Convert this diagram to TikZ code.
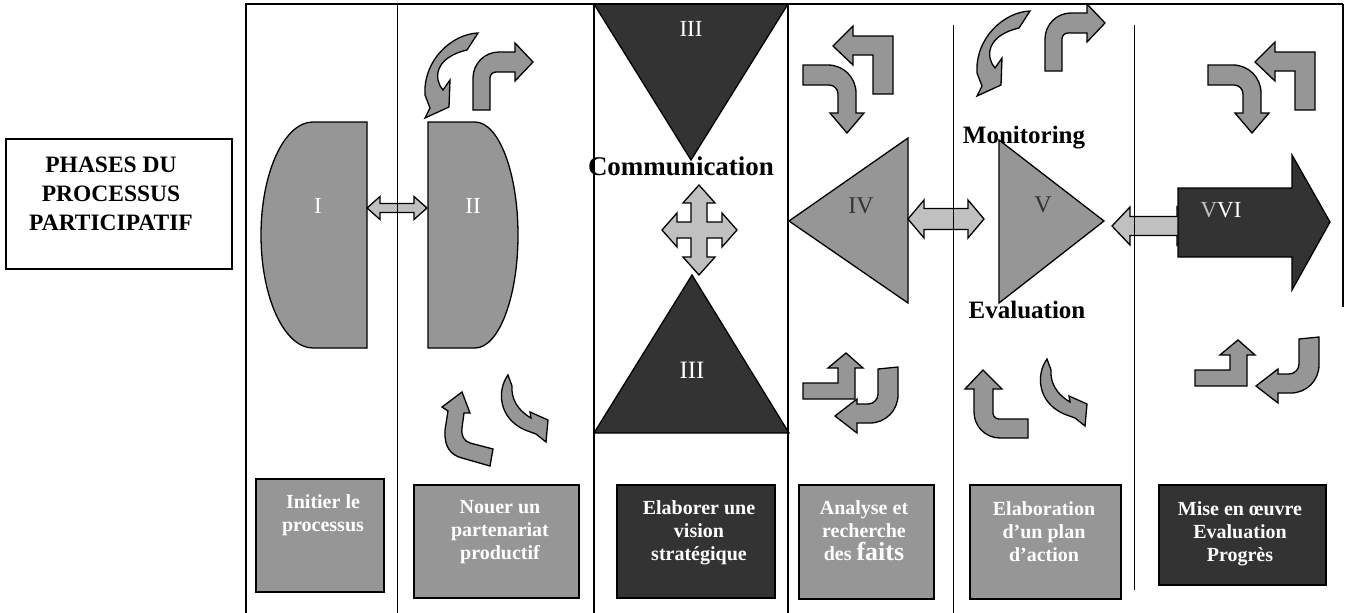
\documentclass[tikz,border=0pt]{standalone}
\usepackage{fontspec}
\setmainfont{Liberation Serif}
\definecolor{mgray}{HTML}{969696}
\definecolor{dgray}{HTML}{333333}
\definecolor{lgray}{HTML}{C0C0C0}
\tikzset{
  shp/.style={draw=black, line width=1.3pt},
  midg/.style={shp, fill=mgray},
  darkf/.style={shp, fill=dgray},
  lightf/.style={shp, fill=lgray},
  frameline/.style={draw=black, line width=2pt},
  divline/.style={draw=black, line width=1pt},
  phasebox/.style={draw=black, line width=1.6pt, anchor=north west, inner sep=0pt},
  boxtext/.style={anchor=north, align=center, text=white, inner sep=0pt, font=\bfseries\fontsize{20}{23}\selectfont},
  romanw/.style={anchor=base, text=white, inner sep=0pt, font=\fontsize{23}{26}\selectfont},
  romand/.style={anchor=base, text=dgray, inner sep=0pt, font=\fontsize{24}{26}\selectfont},
  keyword/.style={anchor=base, inner sep=0pt, font=\bfseries\fontsize{25}{28}\selectfont},
  crescTop/.pic={\path[midg] (478,33) .. controls (452,34) and (423,60) .. (425,95) -- (430,108) -- (425,118) -- (449,107) -- (450,80) -- (443,90) .. controls (434,80) and (433,58) .. (467,50) -- cycle;},
  crescBot/.pic={\path[midg] (508,375) .. controls (497,390) and (498,418) .. (525,430) -- (536,434) -- (546,442) -- (548,420) -- (530,412) -- (531,418) .. controls (517,410) and (511,398) .. (512,386) -- cycle;},
  bentRoundA/.pic={\path[midg] (473,110) -- (473,78) .. controls (473,63.6) and (484.6,52) .. (499,52) -- (515,52) -- (515,43) -- (533,62) -- (515,81) -- (515,72) -- (496,72) .. controls (492.7,72) and (490,74.7) .. (490,78) -- (490,110) -- cycle;},
  bentRoundB/.pic={\path[midg] (803,65) -- (828,65) .. controls (843.5,65) and (856,77.5) .. (856,93) -- (856,113) -- (864,113) -- (847,133) -- (830,113) -- (838,113) -- (838,94) .. controls (838,89) and (834,85) .. (829,85) -- (803,85) -- cycle;},
  bentRoundC/.pic={\path[midg] (878,369) -- (898,367) -- (898,395) .. controls (898,410.5) and (885.5,423) .. (870,423) -- (857,423) -- (857,433) -- (835,416) -- (857,399) -- (857,404) -- (868,404) .. controls (873.5,404) and (878,399.5) .. (878,394) -- cycle;},
  bentSharpA/.pic={\path[midg] (873,94) -- (873,55) -- (853,55) -- (853,65) -- (833,46) -- (853,26) -- (853,36) -- (893,36) -- (893,94) -- cycle;},
  bentSharpB/.pic={\path[midg] (803,383) -- (838,383) -- (838,368) -- (828,368) -- (846,353) -- (863,368) -- (855,368) -- (855,399) -- (803,399) -- cycle;}
}
\newcommand{\dblarr}[6]{%
  \path[lightf] (#1,#3) -- ({#1+#6},{#3-#4}) -- ({#1+#6},{#3-#5}) -- ({#2-#6},{#3-#5}) -- ({#2-#6},{#3-#4}) -- (#2,#3) -- ({#2-#6},{#3+#4}) -- ({#2-#6},{#3+#5}) -- ({#1+#6},{#3+#5}) -- ({#1+#6},{#3+#4}) -- cycle;}
\begin{document}
\begin{tikzpicture}[x=1pt,y=-1pt]
\useasboundingbox (0,0) rectangle (1345,613);

% left title box
\node[phasebox, minimum width=226pt, minimum height=130pt] (phbox) at (5,138) {};
\node[anchor=north, align=center, inner sep=0pt, font=\bfseries\fontsize{23.5}{29}\selectfont] (phtxt) at (111,157) {PHASES DU\\PROCESSUS\\PARTICIPATIF};

% key words
\node[keyword, font=\bfseries\fontsize{27}{30}\selectfont] (comm) at (681,175) {Communication};
\node[keyword] (moni) at (1024,143) {Monitoring};
\node[keyword] (eval) at (1027,318) {Evaluation};

% phase I and II
\path[midg] (367,122) -- (313,122) .. controls (284.3,122) and (261,172.6) .. (261,235) .. controls (261,297.4) and (284.3,348) .. (313,348) -- (367,348) -- cycle;
\path[midg] (428,122) -- (475,122) .. controls (498.7,122) and (518,172.6) .. (518,235) .. controls (518,297.4) and (498.7,348) .. (475,348) -- (428,348) -- cycle;
\node[romanw] (l1) at (318,213) {I};
\node[romanw] (l2) at (473,213) {II};
\dblarr{367}{427}{208}{11.5}{4.5}{13}

% phase III
\path[darkf] (594,4) -- (788,4) -- (691,160) -- cycle;
\path[darkf] (692,275) -- (789,433) -- (594,433) -- cycle;
\node[romanw] (l3a) at (691,36) {III};
\node[romanw, font=\fontsize{25}{27}\selectfont] (l3b) at (692,378) {III};
\path[lightf] (699,185) -- (715,203) -- (707,203) -- (707,222) -- (722,222) -- (722,213) -- (737,230) -- (722,247) -- (722,238) -- (707,238) -- (707,257) -- (715,257) -- (699,275) -- (683,257) -- (691,257) -- (691,238) -- (677,238) -- (677,247) -- (662,230) -- (677,213) -- (677,222) -- (691,222) -- (691,203) -- (683,203) -- cycle;

% phase IV and V
\path[midg] (789,221) -- (908,138) -- (908,303) -- cycle;
\path[midg] (999,140) -- (1104,221) -- (999,303) -- cycle;
\node[romand] (l4) at (861,213) {IV};
\node[romand] (l5) at (1043,212) {V};
\dblarr{908}{984}{219}{19}{10.5}{16}
\dblarr{1112}{1195}{226}{19}{9.5}{18}

% phase VI
\path[darkf] (1178,188) -- (1292,188) -- (1292,155) -- (1330,222) -- (1292,290) -- (1292,257) -- (1178,257) -- cycle;
\node[romanw] (l6) at (1221,217) {\textcolor{lgray}{V}VI};

% small cycle arrows
\pic at (0,0) {crescTop};
\pic at (552,-22) {crescTop};
\pic at (0,0) {bentRoundA};
\pic at (572,-39) {bentRoundA};
\pic at (0,0) {crescBot};
\pic at (539,-16) {crescBot};
\path[midg] (462,392) -- (470,413) -- (464,413) -- (462,428) .. controls (461,436) and (464,441) .. (470,443) -- (493,449) -- (490,466) -- (462,458) .. controls (450,455) and (444,446) .. (445,430) -- (448,411) -- (442,407) -- cycle;
\path[midg] (983,370) -- (1002,389) -- (993,389) -- (993,413) .. controls (993,416.3) and (995.7,419) .. (999,419) -- (1028,419) -- (1028,438) -- (1000,438) .. controls (985.6,438) and (974,426.4) .. (974,412) -- (974,389) -- (965,389) -- cycle;
\pic at (0,0) {bentSharpA};
\pic at (422,16) {bentSharpA};
\pic at (0,0) {bentRoundB};
\pic at (405,0) {bentRoundB};
\pic at (0,0) {bentSharpB};
\pic at (392,-13) {bentSharpB};
\pic at (0,0) {bentRoundC};
\pic at (421,-30) {bentRoundC};

% bottom boxes
\node[phasebox, fill=mgray, minimum width=128pt, minimum height=113pt] (b1) at (255,478) {};
\node[phasebox, fill=mgray, minimum width=165pt, minimum height=113pt] (b2) at (413,484) {};
\node[phasebox, fill=dgray, minimum width=158pt, minimum height=113pt] (b3) at (616,484) {};
\node[phasebox, fill=mgray, minimum width=135pt, minimum height=114pt] (b4) at (798,484) {};
\node[phasebox, fill=mgray, minimum width=151pt, minimum height=114pt] (b5) at (969,484) {};
\node[phasebox, fill=dgray, minimum width=167pt, minimum height=100pt] (b6) at (1158,484) {};
\node[boxtext] (t1) at (323,494) {Initier le\\processus};
\node[boxtext] (t2) at (500,500) {Nouer un\\partenariat\\productif};
\node[boxtext] (t3) at (699,500) {Elaborer une\\vision\\stratégique};
\node[boxtext] (t4) at (864,500) {Analyse et\\recherche\\des {\fontsize{26}{23}\selectfont faits}};
\node[boxtext] (t5) at (1044,501) {Elaboration\\d’un plan\\d’action};
\node[boxtext] (t6) at (1240,501) {Mise en œuvre\\Evaluation\\Progrès};

% frame and column lines
\draw[frameline] (246,613) -- (246,3.5) -- (1343,3.5);
\draw[divline, line width=1.5pt] (1343,3.5) -- (1343,307);
\draw[divline] (397,3.5) -- (397,613);
\draw[divline, line width=1.5pt] (594,3.5) -- (594,613);
\draw[divline, line width=1.5pt] (788,3.5) -- (788,613);
\draw[divline] (953,25) -- (953,613);
\draw[divline] (1134,25) -- (1134,590);
\end{tikzpicture}
\end{document}
